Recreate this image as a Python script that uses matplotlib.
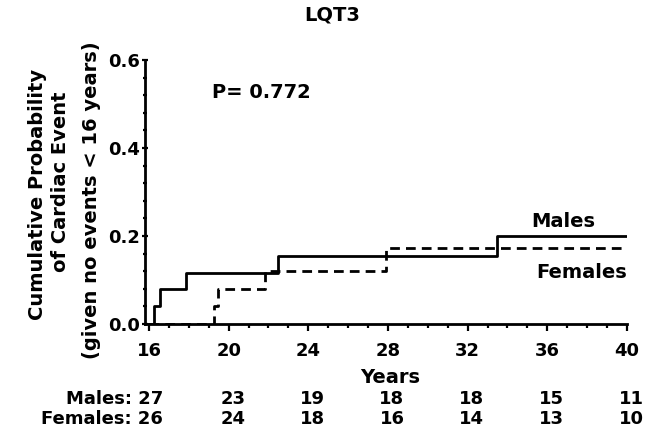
import matplotlib
matplotlib.use('Agg')
import matplotlib.pyplot as plt
from matplotlib.ticker import MultipleLocator

plt.rcParams['font.family'] = ['DejaVu Sans']
plt.rcParams['font.weight'] = 'bold'

# step curves
male_t = [16, 16.25, 16.55, 17.85, 22.5, 33.45, 40]
male_p = [0, 0.04, 0.08, 0.115, 0.155, 0.2, 0.2]
fem_t = [16, 19.25, 19.45, 21.8, 27.9, 40]
fem_p = [0, 0.04, 0.08, 0.12, 0.172, 0.172]

risk_years = [16, 20, 24, 28, 32, 36, 40]
males_at_risk = [27, 23, 19, 18, 18, 15, 11]
females_at_risk = [26, 24, 18, 16, 14, 13, 10]

fs = 14

fig = plt.figure(figsize=(6.6, 4.36), dpi=100)
ax = fig.add_axes([0.2197, 0.2569, 0.7303, 0.6055])

ax.step(male_t, male_p, where='post', color='black', linewidth=2)
ax.step(fem_t, fem_p, where='post', color='black', linewidth=2,
        linestyle=(0, (3.5, 2.2)))

ax.set_xlim(15.8, 40)
ax.set_ylim(0, 0.6)
ax.set_xticks(risk_years)
ax.set_yticks([0.0, 0.2, 0.4, 0.6])
ax.set_yticklabels(['0.0', '0.2', '0.4', '0.6'])
ax.xaxis.set_minor_locator(MultipleLocator(1))
ax.yaxis.set_minor_locator(MultipleLocator(0.04))
ax.tick_params(axis='both', which='major', labelsize=fs - 1, width=1.6, length=5)
ax.tick_params(axis='both', which='minor', width=1.6, length=3)
ax.tick_params(axis='y', which='both', direction='inout', pad=1)
ax.tick_params(axis='x', which='both', direction='out', pad=8)
for s in ['top', 'right']:
    ax.spines[s].set_visible(False)
for s in ['left', 'bottom']:
    ax.spines[s].set_linewidth(2)

fig.text(332 / 660, 1 - 15 / 436, 'LQT3', fontsize=fs, ha='center', va='center')
ax.text(0.14, 0.875, 'P= 0.772', transform=ax.transAxes, fontsize=fs,
        ha='left', va='center')
ax.text(36.8, 0.232, 'Males', fontsize=fs, ha='center', va='center')
ax.text(40, 0.118, 'Females', fontsize=fs, ha='right', va='center')

tr = ax.get_xaxis_transform()
ax.text(28.1, -0.204, 'Years', transform=tr, fontsize=fs, ha='center', va='center')
row_m = -0.284
row_f = -0.36
for i, yr in enumerate(risk_years):
    if i == 0:
        ax.text(16.7, row_m, 'Males: %d' % males_at_risk[i], transform=tr,
                fontsize=13, ha='right', va='center')
        ax.text(16.7, row_f, 'Females: %d' % females_at_risk[i], transform=tr,
                fontsize=13, ha='right', va='center')
    else:
        ax.text(yr + 0.2, row_m, str(males_at_risk[i]), transform=tr,
                fontsize=13, ha='center', va='center')
        ax.text(yr + 0.2, row_f, str(females_at_risk[i]), transform=tr,
                fontsize=13, ha='center', va='center')

fig.text(38 / 660, 1 - 194 / 436, 'Cumulative Probability',
         rotation=90, ha='center', va='center', fontsize=fs)
fig.text(60 / 660, 1 - 182 / 436, 'of Cardiac Event',
         rotation=90, ha='center', va='center', fontsize=fs)
fig.text(92 / 660, 1 - 200 / 436, '(given no events < 16 years)',
         rotation=90, ha='center', va='center', fontsize=fs)

fig.savefig('out.png', dpi=100)
